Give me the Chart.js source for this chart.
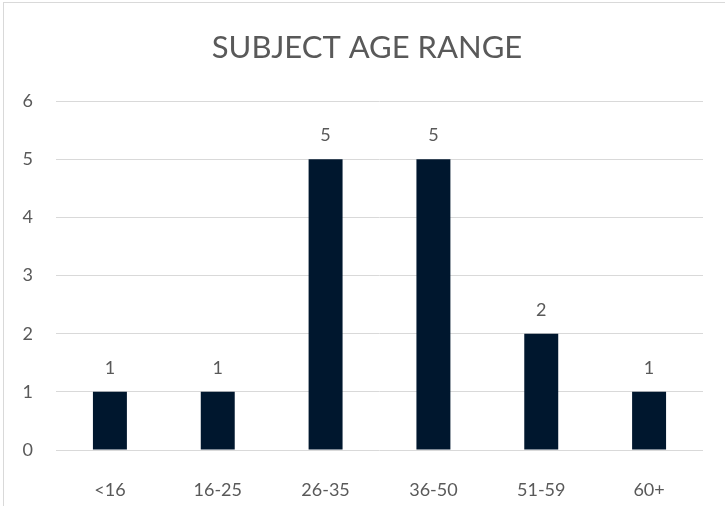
<!DOCTYPE html>
<html>
<head>
<meta charset="utf-8">
<script src="https://cdn.jsdelivr.net/npm/chart.js@4"></script>
<style>
  html, body { margin: 0; padding: 0; background: #fff; }
  #wrap { position: relative; width: 725px; height: 510px; }
  #frame { position: absolute; left: 3px; top: 2px; width: 740px; height: 503px;
           border-left: 1px solid #d9d9d9; border-top: 1px solid #d9d9d9; }
  canvas { position: absolute; left: 0; top: 0; }
</style>
</head>
<body>
<div id="wrap">
  <div id="frame"></div>
  <canvas id="ageChart" width="725" height="510"></canvas>
</div>
<script>
// faixas etárias e contagens
const categorias = ['<16', '16-25', '26-35', '36-50', '51-59', '60+'];
const contagens = [1, 1, 5, 5, 2, 1];
const yTicks = [0, 1, 2, 3, 4, 5, 6];

const cinza = '#595959';
const fonte = "Lato, 'Open Sans', sans-serif";

// rótulos de valor acima das barras
const rotulosPlugin = {
    id: 'rotulos',
    afterDatasetsDraw(chart) {
        const ctx = chart.ctx;
        const meta = chart.getDatasetMeta(0);
        ctx.save();
        ctx.fillStyle = cinza;
        ctx.font = '18px ' + fonte;
        ctx.textAlign = 'center';
        ctx.textBaseline = 'middle';
        meta.data.forEach((bar, i) => {
            ctx.fillText(String(contagens[i]), bar.x, bar.y - 24);
        });
        ctx.restore();
    }
};

new Chart(document.getElementById('ageChart'), {
    type: 'bar',
    data: {
        labels: categorias,
        datasets: [{
            data: contagens,
            backgroundColor: '#00172e',
            barPercentage: 0.315,
            categoryPercentage: 1
        }]
    },
    plugins: [rotulosPlugin],
    options: {
        responsive: false,
        animation: false,
        layout: {
            padding: { top: 29, right: 0, bottom: 0, left: 9 }
        },
        plugins: {
            legend: { display: false },
            tooltip: { enabled: false },
            title: {
                display: true,
                text: 'SUBJECT AGE RANGE',
                color: cinza,
                font: { family: fonte, size: 31, weight: '400' },
                padding: { top: 0, bottom: 35 }
            }
        },
        scales: {
            y: {
                min: 0,
                max: 6,
                afterBuildTicks(scale) {
                    scale.ticks = yTicks.map(v => ({ value: v }));
                },
                afterFit(scale) { scale.width = 47; },
                ticks: {
                    color: cinza,
                    padding: 23,
                    font: { family: fonte, size: 18 }
                },
                grid: { color: '#d9d9d9', lineWidth: 1, drawTicks: false },
                border: { display: false }
            },
            // eixo vazio só para a margem direita
            margem: {
                position: 'right',
                min: 0,
                max: 1,
                afterFit(scale) { scale.width = 22; },
                ticks: { display: false },
                grid: { display: false },
                border: { display: false }
            },
            x: {
                afterFit(scale) { scale.height = 60; },
                ticks: {
                    color: cinza,
                    padding: 21,
                    font: { family: fonte, size: 18 }
                },
                grid: { display: false },
                border: { display: false }
            }
        }
    }
});
</script>
</body>
</html>
